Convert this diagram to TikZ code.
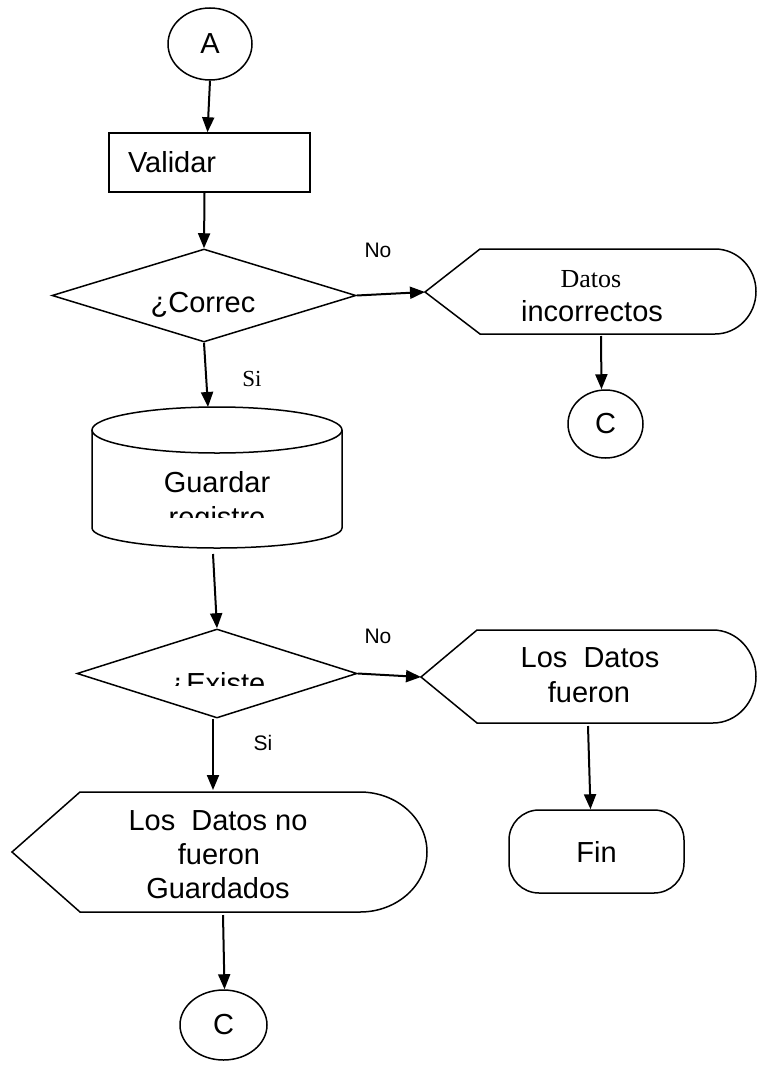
\documentclass[tikz,border=0pt]{standalone}
\usepackage{fontspec}
\setmainfont{Liberation Sans}
\newfontfamily\serifface{Liberation Serif}
\usetikzlibrary{shapes.geometric,arrows.meta}
\begin{document}
\begin{tikzpicture}[x=1pt,y=-1pt,
  shp/.style={draw=black, line width=1.5pt},
  conn/.style={line width=2pt, -{Triangle[length=15pt,width=12pt]}},
  big/.style={font=\fontsize{29}{34}\selectfont},
  txt/.style={anchor=base, inner sep=0pt, big},
  lbl/.style={anchor=base, inner sep=0pt, font=\fontsize{21}{24}\selectfont},
  conncircle/.style={shp, ellipse, inner sep=0pt, big},
]
\useasboundingbox (0,0) rectangle (757,1068);

% --- connector A
\node[conncircle, minimum width=84pt, minimum height=72pt] (A) at (210,44) {A};

% --- Validar
\node[shp, rectangle, minimum width=201pt, minimum height=59pt, inner xsep=19pt, inner ysep=0pt,
      text width=163pt, align=left, big] (val) at (209.5,162.5) {Validar};

% --- decision 1
\node[shp, diamond, minimum width=304pt, minimum height=93pt, inner sep=0pt] (q1) at (204,295.5) {};
\node[txt] (q1t) at (203,312) {¿Correc};

% --- display 1
\draw[shp] (425,292) coordinate (o1w) -- (480,249) -- (715,249)
  arc[start angle=-90, end angle=90, x radius=41, y radius=42.5] -- (480,334) -- cycle;
\coordinate (o1s) at (601,336);
\node[anchor=base, inner sep=0pt, font=\serifface\fontsize{26}{30}\selectfont] (o1a) at (591,287) {Datos};
\node[txt] (o1b) at (592,321) {incorrectos};

% --- connector C (right)
\node[conncircle, minimum width=75pt, minimum height=68pt] (c1) at (605.5,424) {C};

% --- store (cylinder)
\draw[shp] (217,430) ellipse[x radius=125, y radius=23];
\draw[shp] (92,430) -- (92,528) arc[start angle=180, end angle=0, x radius=125, y radius=20] -- (342,430);
\coordinate (cylT) at (208,407);
\coordinate (cylB) at (213,554);
\node[txt] (cyla) at (217,492) {Guardar};
\begin{scope}
  \clip (0,0) rectangle (757,517);
  \node[txt] (cylb) at (217,527) {registro};
\end{scope}

% --- decision 2
\node[shp, diamond, minimum width=280pt, minimum height=89pt, inner sep=0pt] (q2) at (217,673.5) {};
\begin{scope}
  \clip (0,0) rectangle (757,685);
  \node[txt] (q2t) at (217,693) {¿Existe};
\end{scope}

% --- display 2
\draw[shp] (421,677) coordinate (o2w) -- (477,630) -- (713,630)
  arc[start angle=-90, end angle=90, x radius=43, y radius=46.5] -- (477,723) -- cycle;
\coordinate (o2s) at (588,726);
\node[txt] (o2a) at (590,667) {Los\ \ Datos};
\node[txt] (o2b) at (589,702) {fueron};

% --- terminal Fin
\node[shp, rectangle, rounded corners=30pt, minimum width=175pt, minimum height=83pt, big] (fin) at (596.5,851.5) {Fin};

% --- display 3
\draw[shp] (12,852) -- (80,792) -- (360,792)
  arc[start angle=-90, end angle=90, x radius=67, y radius=60] -- (80,912) -- cycle;
\coordinate (o3n) at (213,790);
\coordinate (o3s) at (223,915);
\node[txt] (o3a) at (218,830) {Los\ \ Datos no};
\node[txt] (o3b) at (219,864) {fueron};
\node[txt] (o3c) at (218,898) {Guardados};

% --- connector C (bottom)
\node[conncircle, minimum width=87pt, minimum height=70pt] (c2) at (223.5,1025) {C};

% --- labels
\node[lbl] (no1) at (378,257) {No};
\node[anchor=base, inner sep=0pt, font=\serifface\fontsize{23}{26}\selectfont] (si1) at (252,386) {Si};
\node[lbl] (no2) at (378,643) {No};
\node[lbl] (si2) at (263,750) {Si};

% --- connectors
\draw[conn] (A.south) -- ([xshift=-2pt]val.north);
\draw[conn] ([xshift=-5pt]val.south) -- (q1.north);
\draw[conn] (q1.east) -- (o1w);
\draw[conn] (o1s) -- ([xshift=-4pt]c1.north);
\draw[conn] (q1.south) -- (cylT);
\draw[conn] (cylB) -- (q2.north);
\draw[conn] (q2.east) -- (o2w);
\draw[conn] (o2s) -- ([xshift=-6pt]fin.north);
\draw[conn] ([xshift=-4pt]q2.south) -- (o3n);
\draw[conn] (o3s) -- ([xshift=1pt]c2.north);
\end{tikzpicture}
\end{document}
